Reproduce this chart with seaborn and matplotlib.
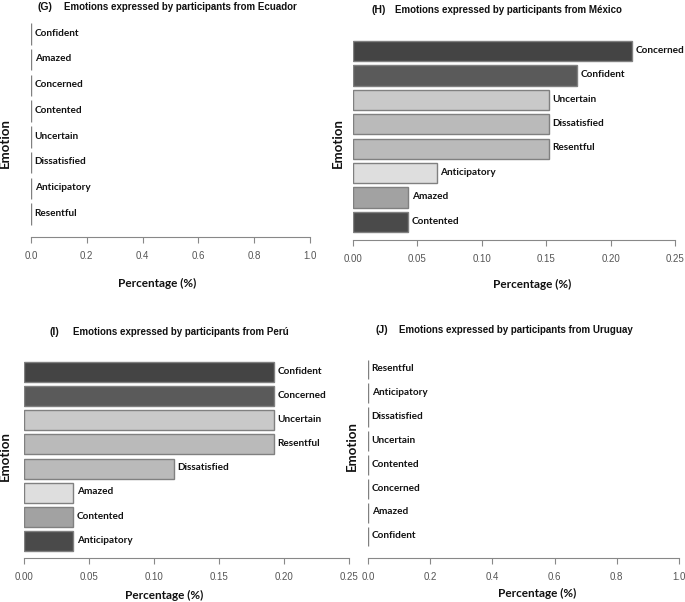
import matplotlib
matplotlib.use("Agg")
import matplotlib.pyplot as plt
import seaborn as sns
import pandas as pd
from matplotlib import font_manager

# data (share of participants per emotion)
ecuador_emotions = ['Confident', 'Amazed', 'Concerned', 'Contented', 'Uncertain', 'Dissatisfied', 'Anticipatory', 'Resentful']
ecuador_values = [0, 0, 0, 0, 0, 0, 0, 0]

mexico_emotions = ['Concerned', 'Confident', 'Uncertain', 'Dissatisfied', 'Resentful', 'Anticipatory', 'Amazed', 'Contented']
mexico_values = [0.217, 0.174, 0.152, 0.152, 0.152, 0.065, 0.043, 0.043]

peru_emotions = ['Confident', 'Concerned', 'Uncertain', 'Resentful', 'Dissatisfied', 'Amazed', 'Contented', 'Anticipatory']
peru_values = [0.192, 0.192, 0.192, 0.192, 0.115, 0.038, 0.038, 0.038]

uruguay_emotions = ['Resentful', 'Anticipatory', 'Dissatisfied', 'Uncertain', 'Contented', 'Concerned', 'Amazed', 'Confident']
uruguay_values = [0, 0, 0, 0, 0, 0, 0, 0]

# bar fill by rank position
rank_colors = ['#444444', '#5a5a5a', '#c9c9c9', '#bababa', '#bababa', '#dedede', '#a2a2a2', '#4a4a4a']

sns.set_style("white")
names = {f.name for f in font_manager.fontManager.ttflist}
narrow = 'Liberation Sans Narrow' if 'Liberation Sans Narrow' in names else 'Liberation Sans'
plt.rcParams['font.family'] = [narrow, 'DejaVu Sans']

W, H = 685, 602
fig = plt.figure(figsize=(W / 100, H / 100), dpi=100)


def px_axes(l, t, r, b):
    return fig.add_axes([l / W, 1 - b / H, (r - l) / W, (b - t) / H])


def panel(emotions, values, box, xmax, ticks, fmt, offset, letter, title, title_pos, xlab_pos, ylab_pos):
    ax = px_axes(*box)
    df = pd.DataFrame({'Emotion': emotions, 'Percentage': values})
    sns.barplot(data=df, x='Percentage', y='Emotion', hue='Emotion', palette=rank_colors,
                legend=False, orient='h', width=0.83, edgecolor='#808080', linewidth=1.0,
                saturation=1, ax=ax)
    ax.set_xlim(0, xmax)
    ax.set_ylim(7.5, -0.5)
    for i, (e, v) in enumerate(zip(emotions, values)):
        ax.annotate(e, (v, i), xytext=(2.6, 0.5), textcoords='offset points', va='center', ha='left',
                    fontsize=7.2, fontweight='bold', family=['Lato', 'DejaVu Sans'], color='#111111',
                    annotation_clip=False)
    for s in ['top', 'right', 'left']:
        ax.spines[s].set_visible(False)
    ax.spines['bottom'].set_position(('outward', offset * 0.72))
    ax.spines['bottom'].set_bounds(0, xmax)
    ax.spines['bottom'].set_color('#888888')
    ax.set_xticks(ticks)
    ax.set_xticklabels([fmt.format(t) for t in ticks])
    ax.tick_params(axis='x', bottom=True, length=4, width=0.8, color='#888888', pad=6,
                   labelsize=7, labelcolor='#555555')
    ax.set_yticks([])
    ax.set_xlabel('')
    ax.set_ylabel('')
    fig.text(title_pos[0] / W, 1 - title_pos[2] / H, letter, fontsize=7.6, fontweight='bold',
             va='center', ha='left', color='#111111')
    fig.text(title_pos[1] / W, 1 - title_pos[2] / H, title, fontsize=7.0, fontweight='bold',
             va='center', ha='left', color='#111111')
    fig.text(xlab_pos[0] / W, 1 - xlab_pos[1] / H, 'Percentage (%)', fontsize=8.5, fontweight='bold',
             family=['Lato', 'DejaVu Sans'], va='center', ha='center', color='#111111')
    fig.text(ylab_pos[0] / W, 1 - ylab_pos[1] / H, 'Emotion', fontsize=9.5, fontweight='bold',
             family=['Lato', 'DejaVu Sans'], va='center', ha='center', rotation=90, color='#111111')
    return ax


ticks1 = [0.0, 0.2, 0.4, 0.6, 0.8, 1.0]
ticks25 = [0.0, 0.05, 0.10, 0.15, 0.20, 0.25]

panel(ecuador_emotions, ecuador_values, (31, 21, 310, 227), 1.0, ticks1, '{:.1f}', 10,
      '(G)', 'Emotions expressed by participants from Ecuador', (37, 64, 7), (157, 283), (5, 143))
panel(mexico_emotions, mexico_values, (353, 39, 675, 234), 0.25, ticks25, '{:.2f}', 6,
      '(H)', 'Emotions expressed by participants from México', (371, 395, 10), (532, 284), (338, 143))
panel(peru_emotions, peru_values, (24, 360, 349, 553), 0.25, ticks25, '{:.2f}', 5,
      '(I)', 'Emotions expressed by participants from Perú', (50, 73, 332), (164, 595), (5, 456))
panel(uruguay_emotions, uruguay_values, (368, 357.5, 679, 548.5), 1.0, ticks1, '{:.1f}', 9.5,
      '(J)', 'Emotions expressed by participants from Uruguay', (375, 399, 330), (537, 593), (352, 446))

fig.savefig('out.png', dpi=100)
